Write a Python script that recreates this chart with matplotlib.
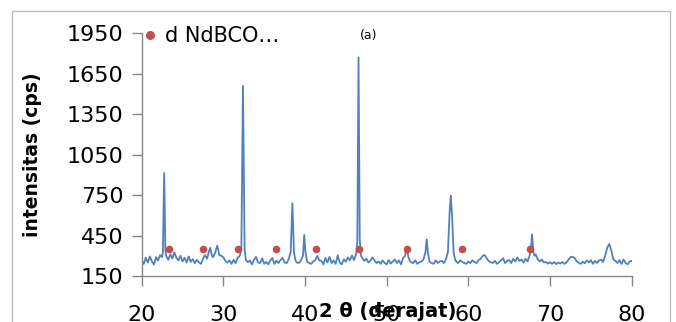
import matplotlib
matplotlib.use("Agg")
import matplotlib.pyplot as plt
from matplotlib.patches import Rectangle
from matplotlib.lines import Line2D

two_theta = [
    20.00, 20.25, 20.50, 20.75, 21.00, 21.25, 21.50, 21.75, 22.00, 22.25, 22.50, 22.60, 22.75, 22.90,
    23.00, 23.25, 23.50, 23.75, 24.00, 24.25, 24.50, 24.75, 25.00, 25.25, 25.50, 25.75, 26.00, 26.25,
    26.50, 26.75, 27.00, 27.25, 27.50, 27.75, 28.00, 28.25, 28.40, 28.60, 28.75, 29.00, 29.25, 29.50,
    29.75, 30.00, 30.25, 30.50, 30.75, 31.00, 31.25, 31.50, 31.75, 32.00, 32.20, 32.40, 32.60, 32.75,
    33.00, 33.25, 33.50, 33.75, 34.00, 34.25, 34.50, 34.75, 35.00, 35.25, 35.50, 35.75, 36.00, 36.25,
    36.50, 36.75, 37.00, 37.25, 37.50, 37.75, 38.00, 38.25, 38.45, 38.65, 38.85, 39.00, 39.25, 39.50,
    39.75, 39.90, 40.05, 40.25, 40.50, 40.75, 41.00, 41.25, 41.50, 41.75, 42.00, 42.25, 42.50, 42.75,
    43.00, 43.25, 43.50, 43.75, 44.00, 44.25, 44.50, 44.75, 45.00, 45.25, 45.50, 45.75, 46.00, 46.25,
    46.40, 46.55, 46.70, 46.85, 47.00, 47.25, 47.50, 47.75, 48.00, 48.25, 48.50, 48.75, 49.00, 49.25,
    49.50, 49.75, 50.00, 50.25, 50.50, 50.75, 51.00, 51.25, 51.50, 51.75, 52.00, 52.25, 52.45, 52.65,
    52.85, 53.00, 53.25, 53.50, 53.75, 54.00, 54.25, 54.50, 54.75, 54.90, 55.05, 55.25, 55.50, 55.75,
    56.00, 56.25, 56.50, 56.75, 57.00, 57.25, 57.50, 57.70, 57.85, 58.00, 58.20, 58.40, 58.60, 58.75,
    59.00, 59.25, 59.50, 59.75, 60.00, 60.25, 60.50, 60.75, 61.00, 61.25, 61.50, 61.75, 62.00, 62.25,
    62.50, 62.75, 63.00, 63.25, 63.50, 63.75, 64.00, 64.25, 64.50, 64.75, 65.00, 65.25, 65.50, 65.75,
    66.00, 66.25, 66.50, 66.75, 67.00, 67.25, 67.50, 67.65, 67.80, 67.95, 68.10, 68.25, 68.50, 68.75,
    69.00, 69.25, 69.50, 69.75, 70.00, 70.25, 70.50, 70.75, 71.00, 71.25, 71.50, 71.75, 72.00, 72.25,
    72.50, 72.75, 73.00, 73.25, 73.50, 73.75, 74.00, 74.25, 74.50, 74.75, 75.00, 75.25, 75.50, 75.75,
    76.00, 76.25, 76.50, 76.75, 77.00, 77.25, 77.50, 77.75, 78.00, 78.25, 78.50, 78.75, 79.00, 79.25,
    79.50, 79.75, 80.00,
]
intensity = [
    265, 240, 285, 250, 295, 258, 235, 290, 265, 305, 290, 330, 914, 340,
    300, 270, 310, 280, 325, 285, 265, 300, 258, 285, 250, 295, 255, 275,
    245, 270, 252, 240, 275, 305, 278, 335, 360, 298, 290, 325, 375, 305,
    300, 288, 262, 250, 266, 240, 270, 245, 285, 300, 340, 1560, 350, 268,
    252, 266, 236, 270, 292, 250, 246, 280, 240, 254, 236, 266, 284, 240,
    264, 246, 270, 284, 250, 246, 274, 330, 690, 320, 262, 250, 246, 266,
    300, 454, 330, 256, 246, 240, 258, 268, 298, 266, 262, 236, 284, 250,
    292, 246, 266, 240, 304, 250, 236, 274, 256, 288, 266, 302, 268, 312,
    400, 1772, 420, 300, 285, 262, 278, 250, 264, 288, 266, 246, 258, 240,
    266, 246, 236, 268, 242, 258, 272, 246, 266, 236, 282, 300, 367, 290,
    260, 252, 246, 266, 240, 252, 258, 272, 330, 422, 320, 256, 246, 240,
    266, 246, 258, 262, 246, 272, 330, 620, 746, 600, 320, 268, 252, 246,
    266, 254, 246, 240, 258, 246, 266, 254, 246, 268, 278, 300, 306, 280,
    260, 252, 246, 262, 240, 252, 266, 282, 246, 262, 268, 246, 278, 258,
    288, 262, 272, 250, 278, 258, 300, 350, 459, 330, 300, 310, 272, 258,
    272, 250, 254, 242, 252, 240, 254, 238, 250, 242, 254, 240, 250, 270,
    290, 293, 285, 260, 248, 240, 256, 244, 266, 250, 268, 240, 262, 246,
    266, 270, 254, 300, 360, 387, 340, 272, 262, 246, 268, 240, 272, 246,
    236, 258, 262,
]

marker_theta = [23.4, 27.55, 31.85, 36.45, 41.35, 46.65, 52.45, 59.2, 67.55]
marker_intensity = [350, 350, 350, 350, 350, 350, 350, 350, 350]

x_ticks = [20, 30, 40, 50, 60, 70, 80]
y_ticks = [150, 450, 750, 1050, 1350, 1650, 1950]

legend_label = "d NdBCO\u2026"
x_label = "2 \u03b8 (derajat)"
y_label = "intensitas (cps)"
panel_label = "(a)"

line_color = "#4F81BD"
marker_color = "#C0504D"
axis_color = "#868686"

W, H = 676, 322
fig = plt.figure(figsize=(W / 100, H / 100), dpi=100)

# outer chart border
fig.patches.append(Rectangle((12 / W, -0.2), (670 - 12) / W, 1.2 - 11 / H,
                             transform=fig.transFigure, fill=False,
                             edgecolor="#BFBFBF", linewidth=1.0))

ax = fig.add_axes([141.7 / W, 1 - 276 / H, (631.7 - 141.7) / W, (276 - 33.3) / H])
ax.plot(two_theta, intensity, color=line_color, linewidth=1.3)
ax.scatter(marker_theta, marker_intensity, s=30, color=marker_color, zorder=3, linewidths=0)

ax.set_xlim(20, 80)
ax.set_ylim(150, 1950)
ax.set_xticks(x_ticks)
ax.set_yticks(y_ticks)
ax.tick_params(axis="both", direction="out", length=7, width=1.0, color=axis_color,
               labelsize=16, labelcolor="black")
ax.tick_params(axis="y", pad=6)
ax.tick_params(axis="x", pad=14)
for s in ["top", "right"]:
    ax.spines[s].set_visible(False)
for s in ["left", "bottom"]:
    ax.spines[s].set_color(axis_color)
    ax.spines[s].set_linewidth(1.0)

ax.set_ylabel(y_label, fontsize=13.5, fontweight="bold", labelpad=8)
ax.yaxis.set_label_coords(-(141.7 - 42) / (631.7 - 141.7), 0.5)

fig.text(388 / W, 1 - 317 / H, x_label, fontsize=14, fontweight="bold",
         ha="center", va="baseline")
fig.text(369 / W, 1 - 35 / H, panel_label, fontsize=9, ha="center", va="center")

handle = Line2D([], [], marker="o", linestyle="none", color=marker_color, markersize=5.5)
ax.legend([handle], [legend_label], loc="upper left", bbox_to_anchor=(144 / W, 1 - 26 / H),
          bbox_transform=fig.transFigure, frameon=False, fontsize=15,
          handlelength=0.6, handletextpad=0.4, borderpad=0, borderaxespad=0)

fig.savefig("out.png", dpi=100)
